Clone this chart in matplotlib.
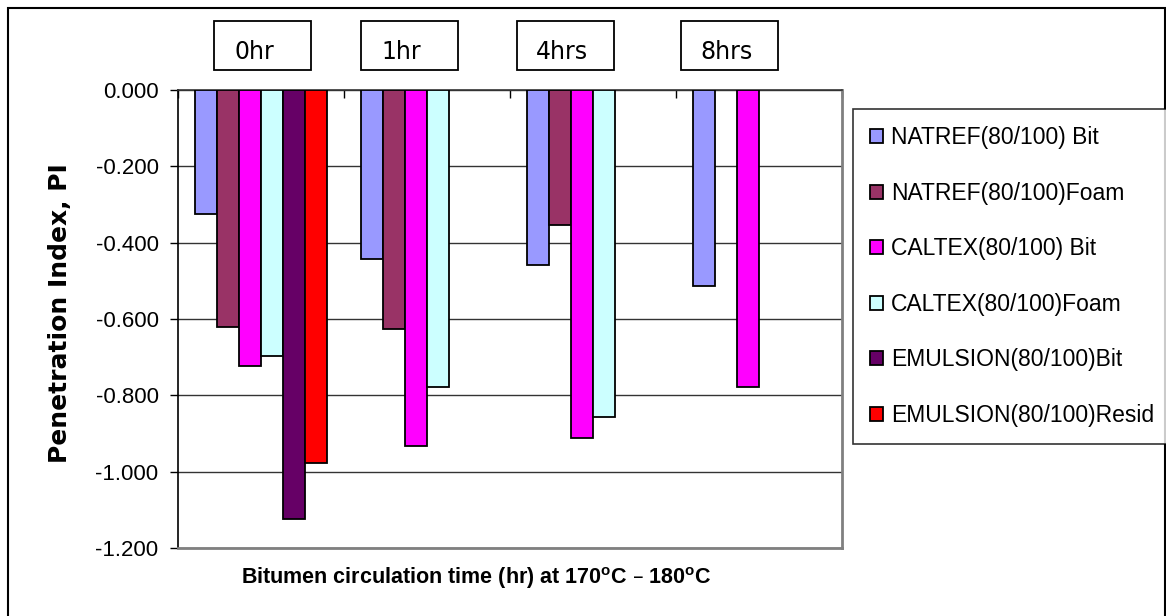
import numpy as np
import matplotlib.pyplot as plt
from matplotlib.patches import Rectangle

W, H = 1166, 616

groups = ['0hr', '1hr', '4hrs', '8hrs']
series = ['NATREF(80/100) Bit', 'NATREF(80/100)Foam', 'CALTEX(80/100) Bit',
          'CALTEX(80/100)Foam', 'EMULSION(80/100)Bit', 'EMULSION(80/100)Resid']
colors = ['#9999FF', '#993366', '#FF00FF', '#CCFFFF', '#660066', '#FF0000']

natref_bit = [-0.325, -0.443, -0.458, -0.513]
natref_foam = [-0.620, -0.625, -0.355, np.nan]
caltex_bit = [-0.722, -0.934, -0.913, -0.778]
caltex_foam = [-0.696, -0.777, -0.858, np.nan]
emulsion_bit = [-1.123, np.nan, np.nan, np.nan]
emulsion_resid = [-0.976, np.nan, np.nan, np.nan]
values = [natref_bit, natref_foam, caltex_bit, caltex_foam, emulsion_bit, emulsion_resid]

yticks = [0.0, -0.2, -0.4, -0.6, -0.8, -1.0, -1.2]


def fx(px):
    return px / W


def fy(py):
    return 1 - py / H


fig = plt.figure(figsize=(W / 100, H / 100), dpi=100)
ax = fig.add_axes([fx(178), fy(548), fx(842) - fx(178), fy(90) - fy(548)])

n = len(series)
w = 1 / (n + 1.5)
x = np.arange(len(groups))
for i in range(n):
    off = -0.5 + 0.75 * w + w * (i + 0.5)
    ax.bar(x + off, values[i], width=w, color=colors[i], edgecolor='black',
           linewidth=1.3, label=series[i], zorder=3)

ax.set_xlim(-0.5, len(groups) - 0.5)
ax.set_ylim(-1.2, 0)
ax.set_yticks(yticks)
ax.set_yticklabels(['%.3f' % v for v in yticks], fontsize=16, family='Liberation Sans')
ax.tick_params(axis='y', direction='out', length=6, width=1, pad=8)
ax.xaxis.tick_top()
ax.set_xticks(np.arange(-0.5, len(groups)))
ax.tick_params(axis='x', direction='in', length=6, width=1, labeltop=False, labelbottom=False)
ax.yaxis.grid(True, color='#333333', linewidth=1, zorder=0)
ax.set_axisbelow(True)
ax.spines['left'].set_color('black')
ax.spines['top'].set_color('#333333')
ax.spines['right'].set_color('#808080')
ax.spines['bottom'].set_color('#808080')
for s in ['left', 'top']:
    ax.spines[s].set_linewidth(1.2)
for s in ['right', 'bottom']:
    ax.spines[s].set_linewidth(2)

# group label boxes
box_left = [214, 361, 517, 681]
text_x = [254, 401, 562, 727]
for g, bl, tx in zip(groups, box_left, text_x):
    fig.patches.append(Rectangle((fx(bl), fy(70)), fx(97), 49 / H, transform=fig.transFigure,
                                 fill=False, edgecolor='black', linewidth=1.3))
    fig.text(fx(tx), fy(59), g, ha='center', va='baseline', fontsize=17, family='DejaVu Sans')

fig.text(fx(60), fy(313), 'Penetration Index, PI', rotation=90, ha='center', va='center',
         fontsize=18, fontweight='bold', family='DejaVu Sans')
fig.text(fx(476), fy(584),
         r'Bitumen circulation time (hr) at 170$^{\mathregular{o}}$C – 180$^{\mathregular{o}}$C',
         ha='center', va='baseline', fontsize=15.5, fontweight='bold', family='Liberation Sans')

leg = fig.legend(loc='upper left', bbox_to_anchor=(fx(853), fy(109)), borderaxespad=0,
                 prop={'family': 'Liberation Sans', 'size': 16.5}, frameon=True, fancybox=False,
                 edgecolor='black', handlelength=0.55, handleheight=0.55, handletextpad=0.35,
                 labelspacing=1.42, borderpad=0.75)
leg.get_frame().set_linewidth(1.2)

fig.patches.append(Rectangle((fx(8), -0.05), fx(1157), fy(8) + 0.05, transform=fig.transFigure,
                             fill=False, edgecolor='black', linewidth=1.5))

fig.savefig('out.png', dpi=100)
